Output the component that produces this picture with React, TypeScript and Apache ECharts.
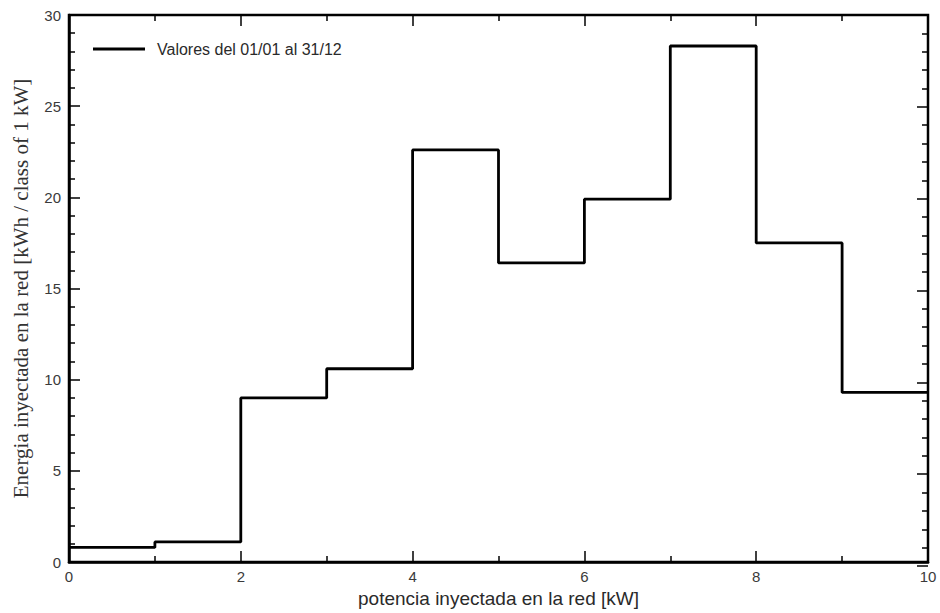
import React, { useEffect, useRef } from "react";
import * as echarts from "echarts";

const classStarts: number[] = [0, 1, 2, 3, 4, 5, 6, 7, 8, 9, 10];
const energyValues: number[] = [0.8, 1.1, 9.0, 10.6, 22.6, 16.4, 19.9, 28.3, 17.5, 9.3, 9.3];
const seriesName = "Valores del 01/01 al 31/12";
const xAxisTitle = "potencia inyectada en la red [kW]";
const yAxisTitle = "Energia inyectada en la red [kWh / class of 1 kW]";

const sans = "Liberation Sans, Arial, sans-serif";
const gridRect = { left: 69, right: 12, top: 15, bottom: 47 };

// Mirror axes (top / right) use an offset range so they are not pulled onto zero.
const mirrorOffset = 100;

export default function App() {
  const ref = useRef<HTMLDivElement>(null);
  useEffect(() => {
    if (!ref.current) return;
    const chart = echarts.init(ref.current, undefined, { renderer: "svg" });
    const data = classStarts.map((x, i) => [x, energyValues[i]]);
    chart.setOption({
      animation: false,
      grid: [
        { ...gridRect, show: true, borderColor: "#000", borderWidth: 2.5 },
        { ...gridRect, show: false },
      ],
      legend: {
        show: true,
        left: 88,
        top: 36,
        itemWidth: 52,
        itemHeight: 10,
        icon: "path://M0,3.6 L52,3.6 L52,6.4 L0,6.4 Z",
        textStyle: { color: "#2a2a2a", fontFamily: sans, fontSize: 16, padding: [0, 0, 0, 7] },
        data: [{ name: seriesName, itemStyle: { color: "#000" } }],
      },
      xAxis: [
        {
          type: "value",
          gridIndex: 0,
          min: 0,
          max: 10,
          interval: 2,
          axisLine: { show: true, lineStyle: { color: "#000", width: 2.5 } },
          axisTick: { show: true, inside: true, length: 11, lineStyle: { color: "#000", width: 1.5 } },
          minorTick: { show: true, splitNumber: 2, length: 6, lineStyle: { color: "#000", width: 1.5 } },
          splitLine: { show: false },
          axisLabel: { show: true, color: "#3a3a3a", fontFamily: sans, fontSize: 15, margin: 7 },
          name: xAxisTitle,
          nameLocation: "middle",
          nameGap: 27,
          nameTextStyle: { color: "#2a2a2a", fontFamily: sans, fontSize: 19 },
        },
        {
          type: "value",
          gridIndex: 1,
          position: "top",
          min: mirrorOffset,
          max: mirrorOffset + 10,
          interval: 2,
          axisLine: { show: false },
          axisTick: { show: true, inside: true, length: 11, lineStyle: { color: "#000", width: 1.5 } },
          minorTick: { show: true, splitNumber: 2, length: 6, lineStyle: { color: "#000", width: 1.5 } },
          splitLine: { show: false },
          axisLabel: { show: false },
        },
      ],
      yAxis: [
        {
          type: "value",
          gridIndex: 0,
          min: 0,
          max: 30,
          interval: 5,
          axisLine: { show: true, lineStyle: { color: "#000", width: 2.5 } },
          axisTick: { show: true, inside: true, length: 11, lineStyle: { color: "#000", width: 1.5 } },
          minorTick: { show: true, splitNumber: 5, length: 6, lineStyle: { color: "#000", width: 1.5 } },
          splitLine: { show: false },
          axisLabel: { show: true, color: "#3a3a3a", fontFamily: sans, fontSize: 15, margin: 8 },
          name: yAxisTitle,
          nameLocation: "middle",
          nameGap: 38,
          nameTextStyle: { color: "#333", fontFamily: "Liberation Serif, Times New Roman, serif", fontSize: 21 },
        },
        {
          type: "value",
          gridIndex: 1,
          position: "right",
          min: mirrorOffset,
          max: mirrorOffset + 30,
          interval: 5,
          axisLine: { show: false },
          axisTick: { show: true, inside: true, length: 11, lineStyle: { color: "#000", width: 1.5 } },
          minorTick: { show: true, splitNumber: 5, length: 6, lineStyle: { color: "#000", width: 1.5 } },
          splitLine: { show: false },
          axisLabel: { show: false },
        },
      ],
      series: [
        {
          name: seriesName,
          type: "line",
          step: "end",
          xAxisIndex: 0,
          yAxisIndex: 0,
          data,
          showSymbol: false,
          symbol: "none",
          lineStyle: { color: "#000", width: 2.8 },
          itemStyle: { color: "#000" },
          clip: true,
        },
      ],
    });
    return () => chart.dispose();
  }, []);
  return <div ref={ref} style={{ width: 940, height: 613, position: "absolute", left: 0, top: 0 }} />;
}
